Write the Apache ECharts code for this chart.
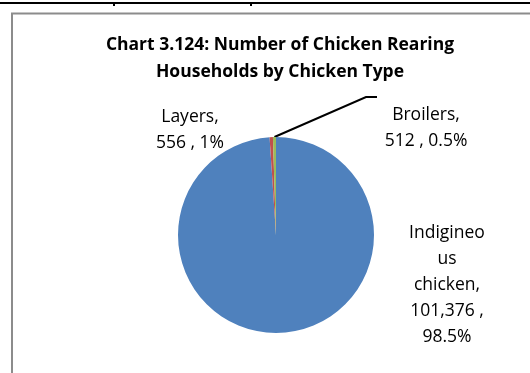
<!DOCTYPE html>
<html>
<head>
<meta charset="utf-8">
<script src="https://cdn.jsdelivr.net/npm/echarts@6/dist/echarts.min.js"></script>
<style>
  html, body { margin: 0; padding: 0; background: #fff; }
  #chart { width: 530px; height: 373px; }
</style>
</head>
<body>
<div id="chart"></div>
<script>
// data
var categories = ['Indigineous chicken', 'Layers', 'Broilers'];
var labelNames = ['Indigineo\nus\nchicken', 'Layers', 'Broilers'];
var households = [101376, 556, 512];
var pctLabels = ['98.5%', '1%', '0.5%'];
var colors = ['#4F81BD', '#C0504D', '#9BBB59'];

// where each label sits (label centres) and how value / percent are joined
var labelPos = [[447, 285], [190, 130], [426, 128]];
var joiners = [' ,\n', ' , ', ' , '];

var font = '"Open Sans", Lato, sans-serif';

var chart = echarts.init(document.getElementById('chart'));

var seriesData = categories.map(function (c, i) {
	return {
		name: c,
		value: households[i],
		itemStyle: { color: colors[i] },
		labelLine: { show: i === 2 }
	};
});

var option = {
	animation: false,
	title: {
		text: 'Chart 3.124: Number of Chicken Rearing\nHouseholds by Chicken Type',
		left: 275,
		top: 27,
		textAlign: 'center',
		textStyle: {
			fontFamily: font,
			fontSize: 17.5,
			fontWeight: 'bold',
			color: '#000',
			lineHeight: 27
		}
	},
	graphic: [
		// outer table rule and chart frame
		{ type: 'line', shape: { x1: 0, y1: 3, x2: 530, y2: 3 }, style: { stroke: '#000', lineWidth: 2 } },
		{ type: 'line', shape: { x1: 114, y1: 2, x2: 114, y2: 6 }, style: { stroke: '#000', lineWidth: 2 } },
		{ type: 'line', shape: { x1: 251, y1: 2, x2: 251, y2: 6 }, style: { stroke: '#000', lineWidth: 2 } },
		{ type: 'rect', shape: { x: 12, y: 13.5, width: 530, height: 380 }, style: { fill: 'none', stroke: '#8c8c8c', lineWidth: 2 } }
	],
	series: [{
		type: 'pie',
		center: [276, 235],
		radius: [0, 98],
		startAngle: 90,
		clockwise: true,
		avoidLabelOverlap: false,
		itemStyle: { borderWidth: 0 },
		label: {
			show: true,
			position: 'outside',
			fontFamily: font,
			fontSize: 17.5,
			lineHeight: 26,
			color: '#000',
			align: 'center',
			formatter: function (p) {
				var i = p.dataIndex;
				return labelNames[i] + ',\n' +
					households[i].toLocaleString('en-US') + joiners[i] + pctLabels[i];
			}
		},
		labelLine: {
			show: false,
			lineStyle: { color: '#000', width: 2 }
		},
		labelLayout: function (params) {
			var i = params.dataIndex;
			var res = {
				x: labelPos[i][0],
				y: labelPos[i][1],
				align: 'center',
				verticalAlign: 'middle'
			};
			if (i === 2 && params.labelLinePoints) {
				var p0 = params.labelLinePoints[0];
				res.labelLinePoints = [p0, [366, 97], [377, 97]];
			}
			return res;
		},
		data: seriesData
	}]
};

chart.setOption(option);
</script>
</body>
</html>
